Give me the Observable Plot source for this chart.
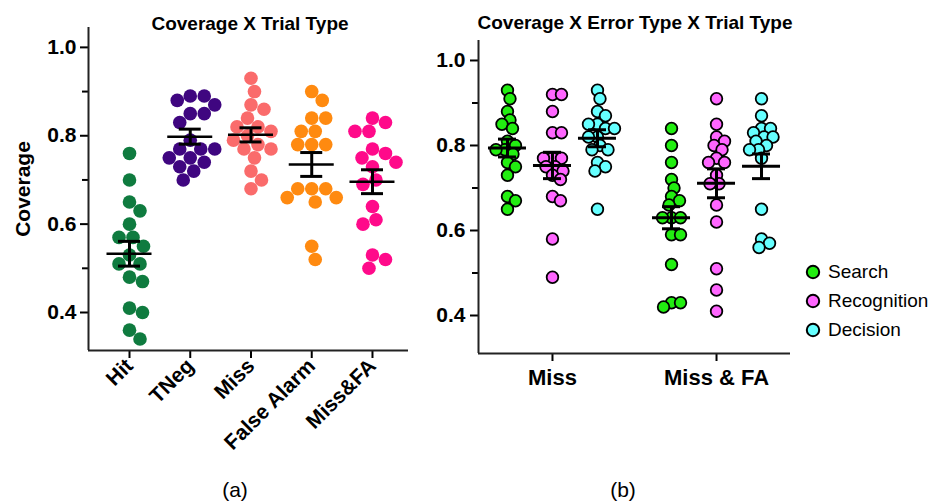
<!DOCTYPE html>
<html>
<head>
<meta charset="utf-8">
<script src="https://cdn.jsdelivr.net/npm/d3@7"></script>
<script src="https://cdn.jsdelivr.net/npm/@observablehq/plot@0.6"></script>
<style>
  html, body { margin: 0; padding: 0; background: #fff; }
  #wrap { position: relative; width: 938px; height: 501px; overflow: hidden; font-family: "Liberation Sans", Arial, sans-serif; }
  .abs { position: absolute; }
  .title { font-weight: bold; font-size: 19px; white-space: nowrap; transform: translate(-50%, -50%); }
  .cap { font-size: 21px; transform: translate(-50%, -50%); }
  .leg { font-size: 19px; display: flex; align-items: center; height: 29px; }
  .leg svg { margin-right: 6px; }
</style>
</head>
<body>
<div id="wrap">
  <div id="pa" class="abs" style="left:0;top:0"></div>
  <div id="pb" class="abs" style="left:420px;top:0"></div>
  <div class="abs title" style="left:250px;top:24px">Coverage X Trial Type</div>
  <div class="abs title" style="left:635px;top:23px">Coverage X Error Type X Trial Type</div>
  <div id="legend" class="abs" style="left:804px;top:257px"></div>
  <div class="abs cap" style="left:235px;top:490px">(a)</div>
  <div class="abs cap" style="left:623px;top:490px">(b)</div>
</div>
<script>
// ---------- Panel (a) data ----------
const catsA = ["Hit", "TNeg", "Miss", "False Alarm", "Miss&FA"];
const colorsA = ["#0f7b3f", "#3f0680", "#fa6b6b", "#ff8a10", "#ff0a8a"];
const hit = [0.76, 0.70, 0.65, 0.63, 0.60, 0.57, 0.57, 0.55, 0.53, 0.51, 0.51, 0.48, 0.47, 0.41, 0.40, 0.36, 0.34];
const tneg = [0.89, 0.89, 0.88, 0.87, 0.85, 0.85, 0.83, 0.79, 0.77, 0.77, 0.77, 0.75, 0.75, 0.74, 0.73, 0.72, 0.70];
const missA = [0.93, 0.90, 0.87, 0.86, 0.84, 0.82, 0.82, 0.81, 0.80, 0.79, 0.78, 0.77, 0.77, 0.75, 0.72, 0.70, 0.68];
const falseAlarm = [0.90, 0.88, 0.84, 0.84, 0.81, 0.81, 0.78, 0.78, 0.78, 0.68, 0.68, 0.68, 0.66, 0.66, 0.65, 0.55, 0.52];
const missFA = [0.84, 0.83, 0.81, 0.81, 0.77, 0.76, 0.75, 0.74, 0.73, 0.70, 0.69, 0.64, 0.61, 0.60, 0.53, 0.52, 0.50];
const meanA = [0.533, 0.798, 0.802, 0.735, 0.696];
const semA = [0.028, 0.017, 0.016, 0.027, 0.027];
const yTicks = [0.4, 0.6, 0.8, 1.0];
const yMinor = [0.5, 0.7, 0.9];

// ---------- Panel (b) data ----------
const trialB = ["Miss", "Miss & FA"];
const errorB = ["Search", "Recognition", "Decision"];
const colorsB = ["#22ee11", "#ff66ff", "#66ffff"];
const missSearch = [0.93, 0.91, 0.88, 0.86, 0.85, 0.84, 0.81, 0.80, 0.79, 0.79, 0.78, 0.76, 0.75, 0.73, 0.68, 0.67, 0.65];
const missRecognition = [0.92, 0.92, 0.88, 0.83, 0.83, 0.77, 0.77, 0.77, 0.75, 0.75, 0.74, 0.73, 0.72, 0.68, 0.67, 0.58, 0.49];
const missDecision = [0.93, 0.91, 0.88, 0.87, 0.85, 0.85, 0.84, 0.84, 0.82, 0.82, 0.80, 0.79, 0.79, 0.76, 0.75, 0.74, 0.65];
const mfaSearch = [0.84, 0.80, 0.76, 0.72, 0.70, 0.68, 0.67, 0.66, 0.63, 0.63, 0.63, 0.59, 0.59, 0.52, 0.43, 0.43, 0.42];
const mfaRecognition = [0.91, 0.85, 0.82, 0.81, 0.80, 0.79, 0.77, 0.76, 0.76, 0.73, 0.71, 0.71, 0.66, 0.62, 0.51, 0.46, 0.41];
const mfaDecision = [0.91, 0.87, 0.84, 0.84, 0.83, 0.82, 0.82, 0.81, 0.80, 0.79, 0.79, 0.77, 0.65, 0.58, 0.57, 0.56];
// order: Miss-Search, Miss-Recognition, Miss-Decision, M&FA-Search, M&FA-Recognition, M&FA-Decision
const meanB = [0.794, 0.753, 0.817, 0.630, 0.711, 0.751];
const semB = [0.021, 0.031, 0.020, 0.026, 0.034, 0.029];

const FONT = "'Liberation Sans', Arial, sans-serif";

// simple beeswarm: offsets in pixels computed from the y scale
function swarm(vals, yS, minD) {
  const pts = vals.map(v => ({v, py: yS.apply(v)})).sort((a, b) => a.py - b.py);
  const placed = [];
  for (const p of pts) {
    for (let k = 0; k < 400; k++) {
      const off = k === 0 ? 0 : (k % 2 ? 1 : -1) * Math.ceil(k / 2) * 0.5;
      if (placed.every(q => (q.dx - off) ** 2 + (q.py - p.py) ** 2 >= minD * minD)) { p.dx = off; break; }
    }
    placed.push(p);
  }
  return pts;
}

// ---------- Panel (a) ----------
{
  const W = 420, H = 470, mL = 88, mT = 27, mR = 12, mB = 120;
  const xDom = [-0.675, 4.593], yDom = [0.314, 1.045];
  const xR = [mL, W - mR], yR = [H - mB, mT];
  const xS = Plot.scale({x: {type: "linear", domain: xDom, range: xR}});
  const yS = Plot.scale({y: {type: "linear", domain: yDom, range: yR}});
  const ppu = xS.apply(1) - xS.apply(0);
  const groups = [hit, tneg, missA, falseAlarm, missFA];
  const pts = [];
  groups.forEach((g, i) => swarm(g, yS, 13.6).forEach(p => pts.push({cat: catsA[i], x: i + p.dx / ppu, v: p.v})));
  const stats = catsA.map((c, i) => ({i, m: meanA[i], lo: meanA[i] - semA[i], hi: meanA[i] + semA[i]}));
  const hw = 22.5 / ppu, cw = 11 / ppu;
  const chart = Plot.plot({
    width: W, height: H, marginLeft: mL, marginTop: mT, marginRight: mR, marginBottom: mB,
    style: {fontFamily: FONT, fontSize: "21px", fontWeight: "bold", background: "transparent", overflow: "visible"},
    x: {type: "linear", domain: xDom, range: xR},
    y: {type: "linear", domain: yDom, range: yR},
    color: {domain: catsA, range: colorsA},
    marks: [
      Plot.dot(pts, {x: "x", y: "v", r: 6.8, fill: "cat"}),
      Plot.ruleY(stats, {y: "m", x1: d => d.i - hw, x2: d => d.i + hw, strokeWidth: 2.5, stroke: "#000"}),
      Plot.ruleX(stats, {x: "i", y1: "lo", y2: "hi", strokeWidth: 3, stroke: "#000"}),
      Plot.ruleY(stats, {y: "lo", x1: d => d.i - cw, x2: d => d.i + cw, strokeWidth: 3, stroke: "#000"}),
      Plot.ruleY(stats, {y: "hi", x1: d => d.i - cw, x2: d => d.i + cw, strokeWidth: 3, stroke: "#000"}),
      Plot.axisY({ticks: yTicks, tickFormat: d3.format(".1f"), tickSize: 8, tickPadding: 4, strokeWidth: 2, label: null, fontSize: 21, fontWeight: "bold"}),
      Plot.axisY({ticks: yMinor, tickFormat: () => "", tickSize: 6, strokeWidth: 2, label: null}),
      Plot.axisX({ticks: [0, 1, 2, 3, 4], tickFormat: i => catsA[i], tickRotate: -45, tickSize: 8, tickPadding: 4, strokeWidth: 2, label: null, fontSize: 21, fontWeight: "bold"}),
      Plot.ruleX([xDom[0]], {strokeWidth: 2, stroke: "#222"}),
      Plot.ruleY([yDom[0]], {strokeWidth: 2, stroke: "#222"}),
      Plot.text(["Coverage"], {frameAnchor: "left", textAnchor: "middle", rotate: -90, dx: -65, fontSize: 21, fontWeight: "bold"})
    ]
  });
  document.getElementById("pa").appendChild(chart);
}

// ---------- Panel (b) ----------
{
  const W = 380, H = 470, mL = 58, mT = 40, mR = 10, mB = 117;
  const xDom = [-0.451, 1.451], yDom = [0.3106, 1.047];
  const xR = [mL, W - mR], yR = [H - mB, mT];
  const xS = Plot.scale({x: {type: "linear", domain: xDom, range: xR}});
  const yS = Plot.scale({y: {type: "linear", domain: yDom, range: yR}});
  const ppu = xS.apply(1) - xS.apply(0);
  const sub = 45 / ppu; // spacing between error types inside a trial group
  const groups = [missSearch, missRecognition, missDecision, mfaSearch, mfaRecognition, mfaDecision];
  const pts = [], stats = [];
  groups.forEach((g, k) => {
    const t = Math.floor(k / 3), e = k % 3;
    const cx = t + (e - 1) * sub;
    swarm(g, yS, 8.8).forEach(p => pts.push({err: errorB[e], x: cx + p.dx / ppu, v: p.v}));
    stats.push({cx, m: meanB[k], lo: meanB[k] - semB[k], hi: meanB[k] + semB[k]});
  });
  const hw = 19 / ppu, cw = 9 / ppu;
  const chart = Plot.plot({
    width: W, height: H, marginLeft: mL, marginTop: mT, marginRight: mR, marginBottom: mB,
    style: {fontFamily: FONT, fontSize: "21px", fontWeight: "bold", background: "transparent", overflow: "visible"},
    x: {type: "linear", domain: xDom, range: xR},
    y: {type: "linear", domain: yDom, range: yR},
    color: {domain: errorB, range: colorsB},
    marks: [
      Plot.dot(pts, {x: "x", y: "v", r: 5.8, fill: "err", stroke: "#000", strokeWidth: 1.8}),
      Plot.ruleY(stats, {y: "m", x1: d => d.cx - hw, x2: d => d.cx + hw, strokeWidth: 3, stroke: "#000"}),
      Plot.ruleX(stats, {x: "cx", y1: "lo", y2: "hi", strokeWidth: 3, stroke: "#000"}),
      Plot.ruleY(stats, {y: "lo", x1: d => d.cx - cw, x2: d => d.cx + cw, strokeWidth: 3, stroke: "#000"}),
      Plot.ruleY(stats, {y: "hi", x1: d => d.cx - cw, x2: d => d.cx + cw, strokeWidth: 3, stroke: "#000"}),
      Plot.axisY({ticks: yTicks, tickFormat: d3.format(".1f"), tickSize: 8, tickPadding: 5, strokeWidth: 2, label: null, fontSize: 21, fontWeight: "bold"}),
      Plot.axisY({ticks: yMinor, tickFormat: () => "", tickSize: 6, strokeWidth: 2, label: null}),
      Plot.axisX({ticks: [0, 1], tickFormat: i => trialB[i], tickSize: 8, tickPadding: 8, strokeWidth: 2, label: null, fontSize: 22, fontWeight: "bold"}),
      Plot.ruleX([xDom[0]], {strokeWidth: 2, stroke: "#222"}),
      Plot.ruleY([yDom[0]], {strokeWidth: 2, stroke: "#222"})
    ]
  });
  document.getElementById("pb").appendChild(chart);
}

// ---------- Legend for (b) ----------
{
  const leg = document.getElementById("legend");
  errorB.forEach((name, i) => {
    const row = document.createElement("div");
    row.className = "leg";
    row.innerHTML = `<svg width="18" height="18"><circle cx="9" cy="9" r="6.2" fill="${colorsB[i]}" stroke="#000" stroke-width="2"/></svg><span>${name}</span>`;
    leg.appendChild(row);
  });
}
</script>
</body>
</html>
